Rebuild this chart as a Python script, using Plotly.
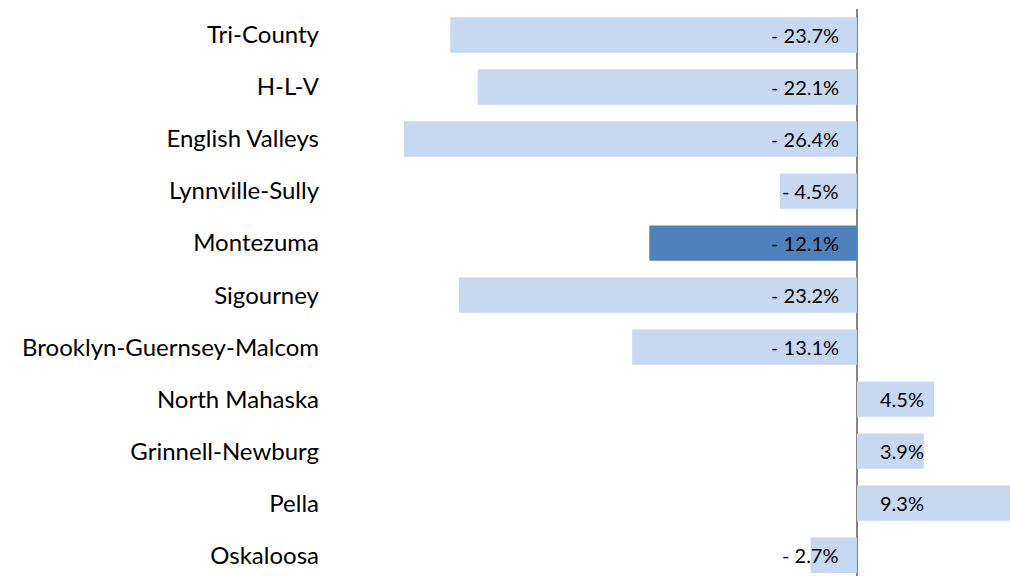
import plotly.graph_objects as go

categories = ["Tri-County", "H-L-V", "English Valleys", "Lynnville-Sully", "Montezuma",
              "Sigourney", "Brooklyn-Guernsey-Malcom", "North Mahaska", "Grinnell-Newburg",
              "Pella", "Oskaloosa"]
values = [-23.7, -22.1, -26.4, -4.5, -12.1, -23.2, -13.1, 4.5, 3.9, 9.3, -2.7]
highlight = "Montezuma"

LIGHT = "#C6D9F1"
DARK = "#4F81BD"
FONT = "Lato, 'Open Sans', sans-serif"
colors = [DARK if c == highlight else LIGHT for c in categories]

def fmt(v):
    return f"- {abs(v):.1f}%" if v < 0 else f"{v:.1f}%"

fig = go.Figure(go.Bar(
    x=values, y=categories, orientation="h",
    marker=dict(color=colors, line=dict(width=0)),
    width=0.68, hoverinfo="skip",
))

for c, v in zip(categories, values):
    fig.add_annotation(
        x=0, y=c, xref="x", yref="y", text=fmt(v), showarrow=False,
        xanchor="right" if v < 0 else "left",
        xshift=-16 if v < 0 else 21,
        font=dict(family=FONT, size=20, color="#000000"),
    )

fig.update_layout(
    width=1010, height=576,
    margin=dict(l=330, r=0, t=9, b=0),
    paper_bgcolor="white", plot_bgcolor="white",
    showlegend=False,
    xaxis=dict(range=[-30.71, 8.92], showgrid=False, showticklabels=False,
               zeroline=True, zerolinecolor="#868686", zerolinewidth=2, fixedrange=True),
    yaxis=dict(range=[10.4, -0.5], showgrid=False, ticks="",
               tickfont=dict(family=FONT, size=24, color="#000000"),
               ticklabelstandoff=10, fixedrange=True),
)

fig.write_html("out.html", config={"displayModeBar": False})

with open("out.html", encoding="utf-8") as f:
    html = f.read()
html = html.replace("<head>", "<head><style>html,body{margin:0;padding:0;overflow:hidden;}</style>", 1)
with open("out.html", "w", encoding="utf-8") as f:
    f.write(html)
